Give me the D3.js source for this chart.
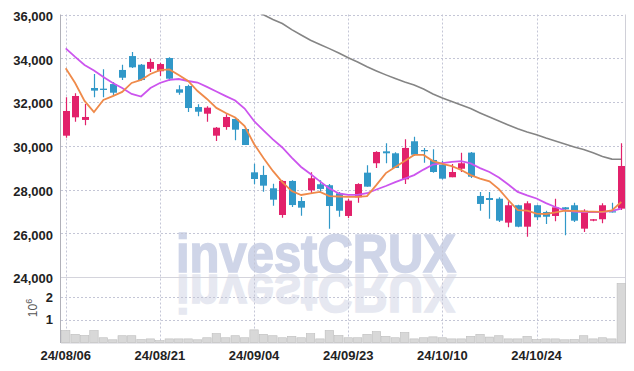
<!DOCTYPE html>
<html>
<head>
<meta charset="utf-8">
<script src="https://cdn.jsdelivr.net/npm/d3@7"></script>
<style>
  body { margin: 0; background: #fff; }
  text { font-family: "Liberation Sans", Arial, sans-serif; }
</style>
</head>
<body>
<div id="chart"></div>
<script>
// trading days (yy/mm/dd)
const dates = [
  "24/08/06","24/08/07","24/08/08","24/08/09","24/08/12","24/08/13","24/08/14","24/08/16","24/08/19","24/08/20",
  "24/08/21","24/08/22","24/08/23","24/08/26","24/08/27","24/08/28","24/08/29","24/08/30","24/09/02","24/09/03",
  "24/09/04","24/09/05","24/09/06","24/09/09","24/09/10","24/09/11","24/09/12","24/09/13","24/09/19","24/09/20",
  "24/09/23","24/09/24","24/09/25","24/09/26","24/09/27","24/09/30","24/10/02","24/10/04","24/10/07","24/10/08",
  "24/10/10","24/10/11","24/10/14","24/10/15","24/10/16","24/10/17","24/10/18","24/10/21","24/10/22","24/10/23",
  "24/10/24","24/10/25","24/10/28","24/10/29","24/10/30","24/10/31","24/11/01","24/11/04","24/11/05","24/11/06"
];
const tickDates = ["24/08/06","24/08/21","24/09/04","24/09/23","24/10/10","24/10/24"];
const priceTicks = [24000, 26000, 28000, 30000, 32000, 34000, 36000];
const volTicks = [1e6, 2e6];

const open = [30460,31300,31180,32640,32610,32820,33465,34100,33705,33520,
  33405,34010,32580,32730,31770,31465,30460,30855,31225,30765,
  28785,28665,28055,26835,28390,27475,27965,28240,28195,27825,
  26790,27645,28770,29200,29745,29655,28465,30205,29805,29350,
  29135,28560,28950,29685,27705,27610,27580,26485,27280,26300,
  27280,26970,26790,27185,27280,26210,26575,26640,27005,27125];
const high = [32215,32400,31910,33280,33495,32915,33705,34285,33735,33980,
  33795,34045,32765,32790,31895,31805,30855,31440,31255,30800,
  29180,29090,28265,28420,28420,27660,28785,28420,28250,27885,
  27580,28285,29105,29745,30110,29700,30295,30415,29900,29840,
  29315,29165,29685,29715,27885,27885,27645,27460,27300,27460,
  27305,27030,27580,27200,27395,27095,26650,27370,27395,30110];
const low = [30370,31100,30935,32215,32215,32300,33005,33555,32975,33370,
  33190,32975,32335,31545,31345,31100,30220,30735,30250,30035,
  28240,27900,27260,26710,27200,26805,27840,27875,26210,26755,
  26700,27395,28130,28985,29200,28985,28250,29530,29225,28770,
  28460,28560,28800,28525,27030,26665,26515,26275,26275,25845,
  26605,26425,26545,25905,26515,26060,26545,26455,26950,27065];
const close = [31590,32275,31315,32520,32550,32425,33110,33585,33005,33830,
  33735,33065,32425,31725,31555,31740,30825,31315,30735,30035,
  28480,28175,27535,28390,27290,27170,28515,28025,27245,27030,
  27490,28250,28130,29715,29655,28985,29900,29590,29745,28800,
  28495,28800,29200,28585,27340,27520,26575,27280,26300,27370,
  26730,26755,27185,27095,26575,27030,26640,27280,26970,29075];
const volume = [530000,360000,310000,530000,210000,120000,300000,300000,130000,160000,
  80000,160000,160000,160000,120000,210000,390000,210000,300000,210000,
  560000,360000,300000,210000,270000,210000,390000,160000,530000,310000,
  210000,210000,360000,480000,270000,210000,440000,160000,210000,250000,
  210000,160000,160000,270000,360000,240000,300000,160000,160000,270000,
  130000,160000,160000,120000,130000,300000,160000,210000,160000,2610000];

// moving averages
const ma5 = [33540,32870,32050,31540,32090,32270,32460,32870,33010,33280,
  33460,33490,33230,32960,32500,32140,31730,31500,31290,30900,
  30080,29440,28850,28340,27930,27750,27820,27890,27700,27680,
  27660,27660,27700,28210,28750,29030,29300,29580,29580,29300,
  29170,29070,28890,28660,28500,28370,28020,27520,27060,27030,
  26900,26880,26950,27030,27020,27000,26990,26980,27040,27430];
const ma10 = [34450,34060,33690,33440,33140,32870,32640,32370,32250,32640,
  32870,33010,33050,32960,32890,32690,32480,32270,32070,31700,
  31130,30700,30290,29920,29460,29030,28710,28370,28050,27820,
  27750,27750,27830,28000,28160,28340,28500,28660,28910,29140,
  29210,29260,29300,29190,28980,28800,28550,28230,27890,27730,
  27590,27380,27200,27050,26990,26970,26970,26970,27020,27130];
const ma60 = [null,null,null,null,null,null,null,null,null,null,
  null,null,null,null,null,null,null,null,36570,36370,
  36180,35990,35770,35590,35310,35060,34820,34630,34440,34240,
  34020,33830,33610,33420,33240,33070,32910,32780,32590,32370,
  32180,32020,31860,31700,31500,31310,31130,30950,30780,30630,
  30500,30350,30220,30080,29940,29830,29680,29510,29390,29380];

const width = 634, height = 371;
const plotLeft = 61, plotRight = 626, plotTop = 14.5, plotMid = 277, plotBottom = 342.5;

const svg = d3.select("#chart").append("svg")
  .attr("width", width)
  .attr("height", height);

const x = d3.scaleBand().domain(dates).range([plotLeft, plotRight]);
const cx = d => x(d) + x.bandwidth() / 2;
const y = d3.scaleLinear().domain([24000, 36000]).range([plotMid, plotTop]);
const yv = d3.scaleLinear().domain([0, 2.9e6]).range([plotBottom, plotMid]);

svg.append("clipPath").attr("id", "clip")
  .append("rect").attr("x", plotLeft).attr("y", plotTop)
  .attr("width", plotRight - plotLeft).attr("height", plotMid - plotTop);

// watermark + reflection
const wm = svg.append("g").attr("font-family", "Liberation Sans, Arial, sans-serif")
  .attr("font-weight", "bold").attr("font-size", 53).attr("text-anchor", "middle");
wm.append("text").attr("x", 316).attr("y", 271.5)
  .attr("textLength", 280).attr("lengthAdjust", "spacingAndGlyphs")
  .attr("fill", "#cfd5e8").attr("stroke", "#cfd5e8").attr("stroke-width", 1.6)
  .text("investCRUX");
wm.append("text").attr("x", 316).attr("y", 271.5)
  .attr("transform", "translate(0,546) scale(1,-1)")
  .attr("textLength", 280).attr("lengthAdjust", "spacingAndGlyphs")
  .attr("fill", "#d6dae8").attr("stroke", "#d6dae8").attr("stroke-width", 1.6)
  .attr("opacity", 0.6).text("investCRUX");

// grid
const grid = svg.append("g").attr("stroke", "#c4c6d6").attr("stroke-dasharray", "2,2").attr("stroke-width", 1);
grid.selectAll(".h").data(priceTicks.slice(1)).join("line")
  .attr("x1", plotLeft).attr("x2", plotRight)
  .attr("y1", d => Math.round(y(d)) + 0.5).attr("y2", d => Math.round(y(d)) + 0.5);
grid.append("g").selectAll("line").data(volTicks).join("line")
  .attr("x1", plotLeft).attr("x2", plotRight)
  .attr("y1", d => Math.round(yv(d)) + 0.5).attr("y2", d => Math.round(yv(d)) + 0.5);
grid.append("g").selectAll("line").data(tickDates).join("line")
  .attr("x1", d => Math.round(cx(d)) + 0.5).attr("x2", d => Math.round(cx(d)) + 0.5)
  .attr("y1", plotTop).attr("y2", plotBottom);

// frame
svg.append("line").attr("x1", plotLeft).attr("x2", plotRight).attr("y1", 277.5).attr("y2", 277.5)
  .attr("stroke", "#d4d4dc");
svg.append("line").attr("x1", plotLeft - 0.5).attr("x2", plotLeft - 0.5).attr("y1", plotTop).attr("y2", plotBottom + 0.5)
  .attr("stroke", "#b0b0b8");
svg.append("line").attr("x1", plotRight - 0.5).attr("x2", plotRight - 0.5).attr("y1", plotTop).attr("y2", plotBottom + 0.5)
  .attr("stroke", "#d0d0d8");
svg.append("line").attr("x1", plotLeft).attr("x2", plotRight).attr("y1", plotBottom + 0.5).attr("y2", plotBottom + 0.5)
  .attr("stroke", "#d0d0d8");

// volume
svg.append("g").selectAll("rect").data(volume).join("rect")
  .attr("x", (d, i) => x(dates[i]) + 0.5)
  .attr("width", x.bandwidth() - 1)
  .attr("y", d => yv(d))
  .attr("height", d => plotBottom - yv(d))
  .attr("fill", "#d8d8d8")
  .attr("stroke", "#bdbdbd")
  .attr("stroke-width", 0.6);

// moving averages
const plot = svg.append("g").attr("clip-path", "url(#clip)");
const line = d3.line()
  .defined(d => d != null)
  .x((d, i) => cx(dates[i]))
  .y(d => y(d));
plot.append("path").datum(ma60).attr("d", line)
  .attr("fill", "none").attr("stroke", "#858585").attr("stroke-width", 1.6);

// candles
const upColor = "#e2216b", downColor = "#3198c8";
const bw = 7;
const candle = plot.selectAll(".candle").data(dates).join("g");
candle.append("line")
  .attr("x1", d => Math.round(cx(d)) + 0.5).attr("x2", d => Math.round(cx(d)) + 0.5)
  .attr("y1", (d, i) => y(high[i])).attr("y2", (d, i) => y(low[i]))
  .attr("stroke", (d, i) => close[i] >= open[i] ? upColor : downColor)
  .attr("stroke-width", 1.2);
candle.append("rect")
  .attr("x", d => Math.round(cx(d)) + 0.5 - bw / 2)
  .attr("width", bw)
  .attr("y", (d, i) => y(Math.max(open[i], close[i])))
  .attr("height", (d, i) => Math.max(1.2, Math.abs(y(open[i]) - y(close[i]))))
  .attr("fill", (d, i) => close[i] >= open[i] ? upColor : downColor);

plot.append("path").datum(ma10).attr("d", line)
  .attr("fill", "none").attr("stroke", "#cc55ee").attr("stroke-width", 1.8);
plot.append("path").datum(ma5).attr("d", line)
  .attr("fill", "none").attr("stroke", "#ef8a4a").attr("stroke-width", 1.8);

// axes
const yAxis = svg.append("g")
  .attr("transform", `translate(${plotLeft - 5},0)`)
  .call(d3.axisLeft(y).tickValues(priceTicks).tickFormat(d3.format(",")).tickSize(0));
yAxis.select(".domain").remove();
yAxis.selectAll("text").attr("dy", "0.45em");

const vAxis = svg.append("g")
  .attr("transform", `translate(${plotLeft - 5},0)`)
  .call(d3.axisLeft(yv).tickValues(volTicks).tickFormat(d => d / 1e6).tickSize(0));
vAxis.select(".domain").remove();
vAxis.selectAll("text").attr("dy", "0.3em");

const xAxis = svg.append("g")
  .attr("transform", `translate(0,${plotBottom})`)
  .call(d3.axisBottom(x).tickValues(tickDates).tickSize(0));
xAxis.select(".domain").remove();
xAxis.selectAll("text").attr("dy", "1.1em");

svg.selectAll(".tick text")
  .attr("font-family", "Liberation Sans, Arial, sans-serif")
  .attr("font-size", 13)
  .attr("font-weight", "bold")
  .attr("fill", "#222");

// 10^6 unit label
const unit = svg.append("text")
  .attr("transform", "translate(37,308) rotate(-90)")
  .attr("text-anchor", "middle")
  .attr("font-size", 12)
  .attr("fill", "#555");
unit.append("tspan").text("10");
unit.append("tspan").attr("baseline-shift", "super").attr("font-size", 9).text("6");
</script>
</body>
</html>
